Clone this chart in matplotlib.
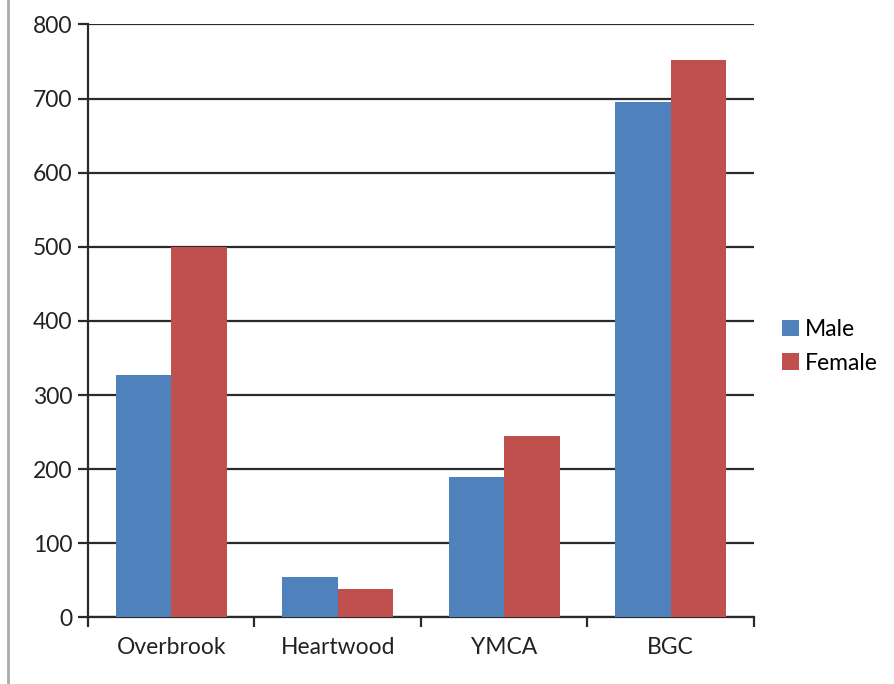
import numpy as np
import matplotlib.pyplot as plt
from matplotlib.lines import Line2D

categories = ["Overbrook", "Heartwood", "YMCA", "BGC"]
male = [327, 55, 190, 695]
female = [500, 38, 244, 752]
yticks = [0, 100, 200, 300, 400, 500, 600, 700, 800]

plt.rcParams['font.family'] = ['Lato', 'DejaVu Sans']

fig = plt.figure(figsize=(8.94, 6.84), dpi=100)
ax = fig.add_axes([0.0984, 0.0975, 0.745, 0.8667])

x = np.arange(len(categories))
w = 1/3
ax.bar(x - w/2, male, w, color="#4F81BD", label="Male", zorder=3)
ax.bar(x + w/2, female, w, color="#C0504D", label="Female", zorder=3)

ax.set_xlim(-0.5, len(categories) - 0.5)
ax.set_ylim(0, 800)
ax.set_yticks(yticks)
ax.yaxis.grid(True, color="#2a2a2a", linewidth=1.6, zorder=1)

# category ticks sit on the boundaries between groups
ax.set_xticks(np.arange(len(categories) + 1) - 0.5)
ax.set_xticklabels([])
ax.set_xticks(x, minor=True)
ax.set_xticklabels(categories, minor=True)
ax.tick_params(axis="x", which="major", length=7, width=1.6, color="#2a2a2a")
ax.tick_params(axis="x", which="minor", length=0, pad=14, labelsize=16.5, labelcolor="#222222")
ax.tick_params(axis="y", length=7, width=1.6, color="#2a2a2a", labelsize=16.5,
               labelcolor="#222222", pad=4)

for s in ["top", "right"]:
    ax.spines[s].set_visible(False)
for s in ["left", "bottom"]:
    ax.spines[s].set_linewidth(1.6)
    ax.spines[s].set_color("#2a2a2a")

ax.legend(loc="center left", bbox_to_anchor=(1.025, 0.457), frameon=False,
          fontsize=16.5, handlelength=0.75, handleheight=0.75, handletextpad=0.25,
          labelspacing=0.55, borderpad=0)

fig.add_artist(Line2D([0.0084, 0.0084], [0.0, 1.0], color="#aaaaaa", linewidth=2,
                      transform=fig.transFigure))

fig.savefig("out.png", dpi=100)
